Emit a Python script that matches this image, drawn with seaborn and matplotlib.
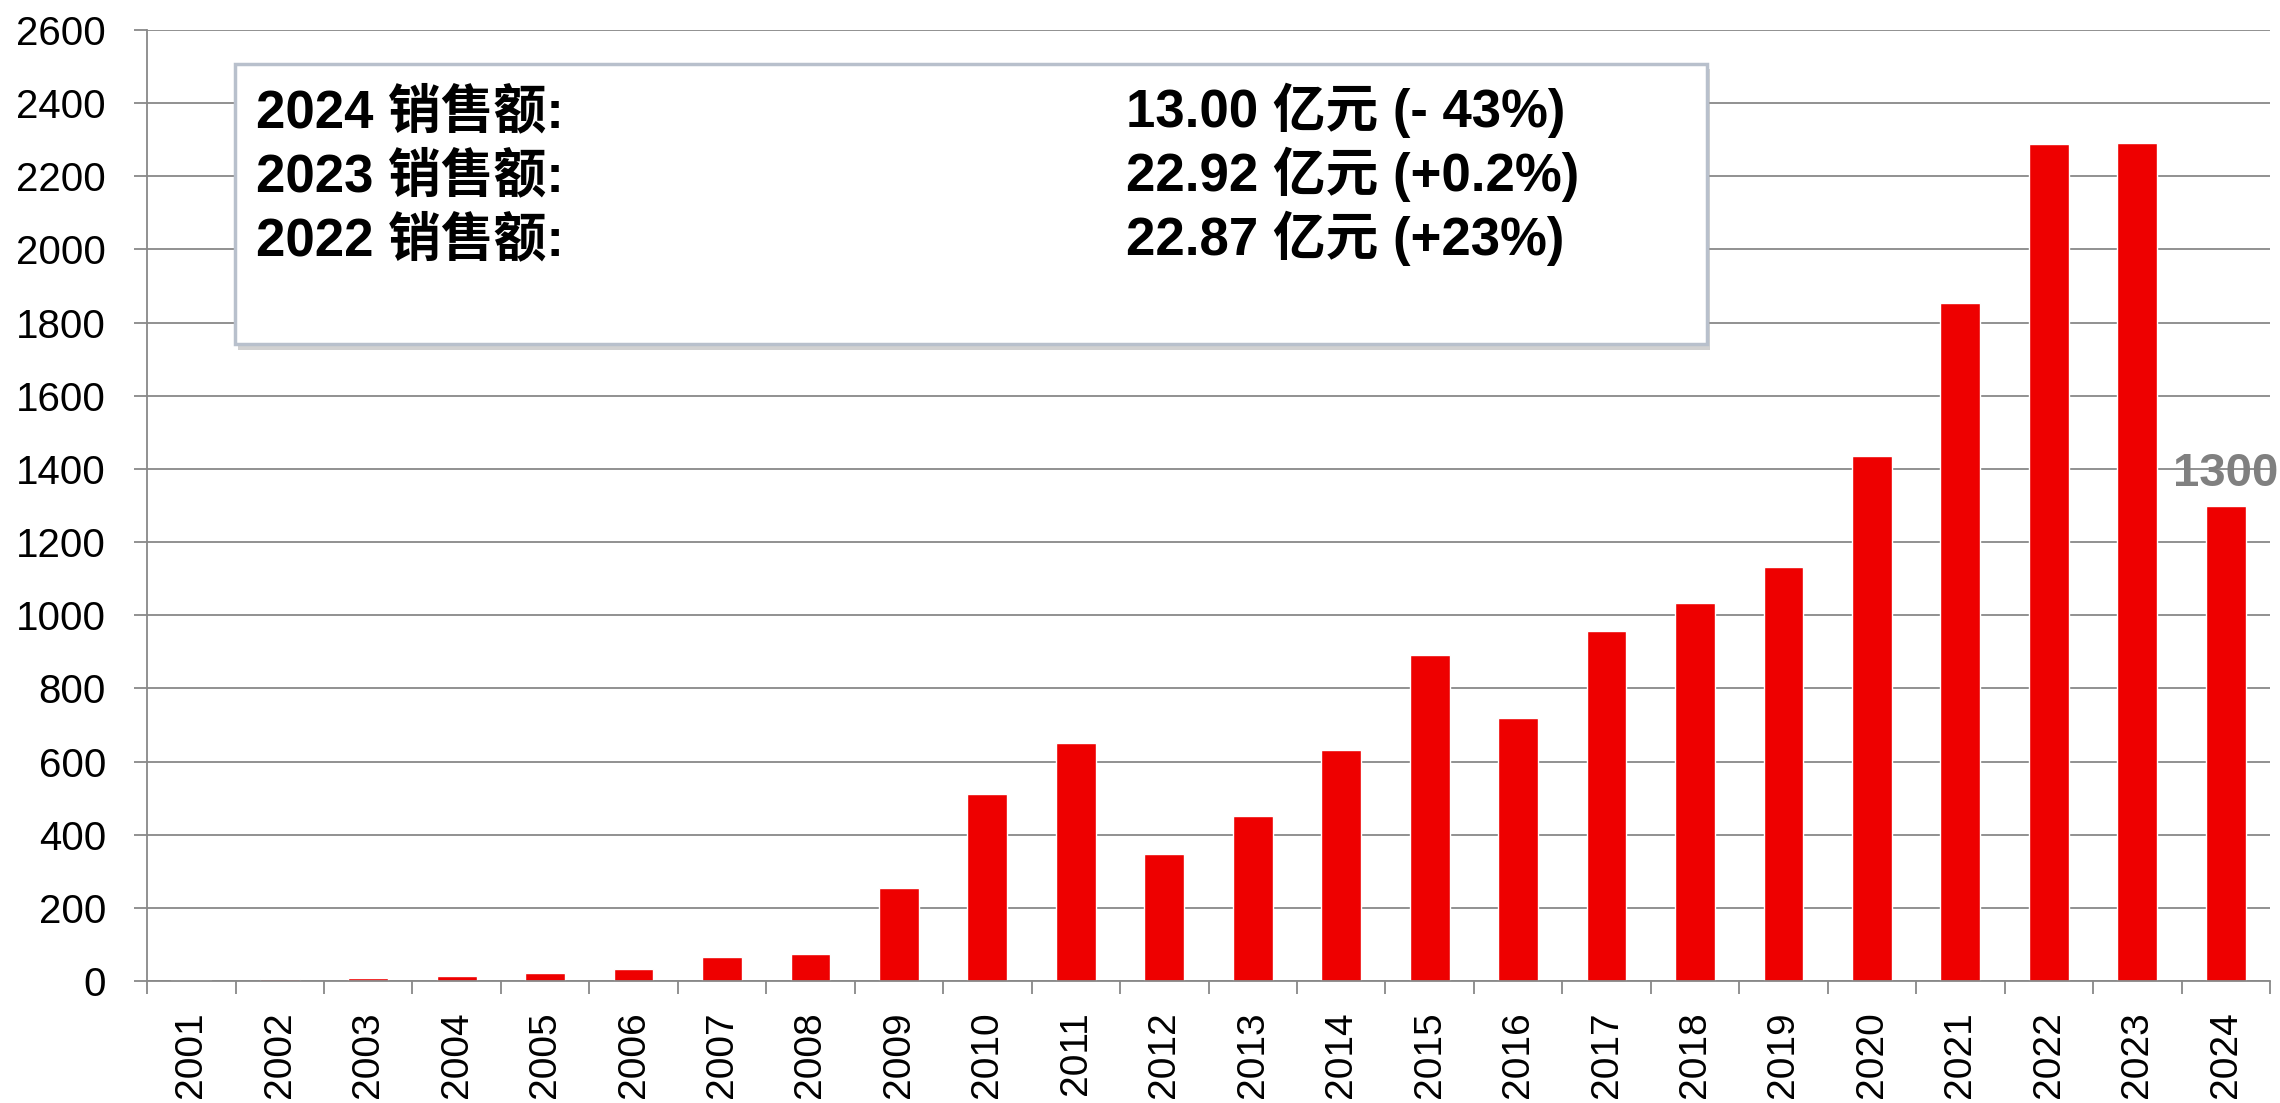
import matplotlib
matplotlib.use("Agg")
import matplotlib.pyplot as plt
import seaborn as sns
import pandas as pd
from matplotlib.patches import Rectangle

sns.set_theme(style="white")
plt.rcParams['font.family'] = ['Liberation Sans', 'Noto Sans CJK SC', 'DejaVu Sans']

# yearly sales (百万元)
years = ["2001", "2002", "2003", "2004", "2005", "2006", "2007", "2008",
         "2009", "2010", "2011", "2012", "2013", "2014", "2015", "2016",
         "2017", "2018", "2019", "2020", "2021", "2022", "2023", "2024"]
sales = [2, 6, 9, 15, 22, 33, 66, 74, 255, 512, 650, 348, 451, 632, 891, 720,
         958, 1033, 1133, 1435, 1855, 2287, 2292, 1300]

summary_left = ["2024 销售额:", "2023 销售额:", "2022 销售额:"]
summary_right = ["13.00 亿元 (- 43%)", "22.92 亿元 (+0.2%)", "22.87 亿元 (+23%)"]

y_ticks = [0, 200, 400, 600, 800, 1000, 1200, 1400, 1600, 1800, 2000, 2200, 2400, 2600]

df = pd.DataFrame({"year": years, "sales": sales})

grey = "#888888"
fig = plt.figure(figsize=(22.8, 11.03), dpi=100)
ax = fig.add_axes([0.0645, 0.1106, 0.9311, 0.8622])

sns.barplot(data=df, x="year", y="sales", color="#EE0000", saturation=1,
            width=0.45, ax=ax)

ax.set_xlim(-0.5, len(years) - 0.5)
ax.set_ylim(y_ticks[0], y_ticks[-1])
ax.set_yticks(y_ticks)
ax.set_xlabel("")
ax.set_ylabel("")

ax.yaxis.grid(True, color=grey, linewidth=1.3)
ax.set_axisbelow(True)

for s in ["top", "right"]:
    ax.spines[s].set_visible(False)
for s in ["left", "bottom"]:
    ax.spines[s].set_color(grey)
    ax.spines[s].set_linewidth(1.3)

# category boundaries carry the tick marks, labels sit at the centres
ax.set_xticks([i - 0.5 for i in range(len(years) + 1)], minor=True)
ax.tick_params(axis="x", which="major", length=0, pad=22, labelsize=28,
               labelrotation=90, labelcolor="black")
ax.tick_params(axis="x", which="minor", length=9.5, width=1.3, color=grey,
               bottom=True)
ax.tick_params(axis="y", length=9.5, width=1.3, color=grey, pad=20,
               labelsize=29, labelcolor="black", left=True)

# value label only on the last bar
labels = [""] * (len(sales) - 1) + [str(sales[-1])]
ax.bar_label(ax.containers[0], labels=labels, padding=7, fontsize=34,
             fontweight="bold", color="#808080")

# summary box with soft shadow
bx, by, bw, bh = 0.1031, 0.6881, 0.6456, 0.2539
shadow = Rectangle((bx + 0.0015, by - 0.005), bw, bh, transform=fig.transFigure,
                   facecolor="#9a9a9a", edgecolor="none", alpha=0.45, zorder=4)
box = Rectangle((bx, by), bw, bh, transform=fig.transFigure,
                facecolor="white", edgecolor="#B8C0CC", linewidth=2.5, zorder=5)
fig.patches.extend([shadow, box])

line_y = [0.8849, 0.8268, 0.7688]
for yy, lt, rt in zip(line_y, summary_left, summary_right):
    fig.text(0.1123, yy, lt, fontsize=38, fontweight="bold", va="baseline",
             ha="left", color="black", zorder=6)
    fig.text(0.4939, yy, rt, fontsize=38, fontweight="bold", va="baseline",
             ha="left", color="black", zorder=6)

fig.savefig("out.png", dpi=100)
